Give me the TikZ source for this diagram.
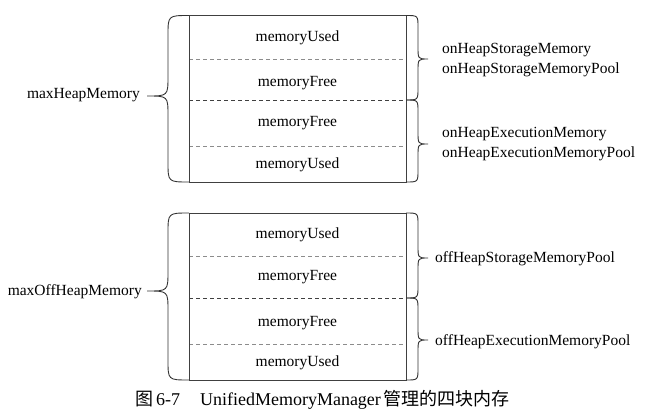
\documentclass[tikz,border=0pt]{standalone}
\usepackage{fontspec}
\setmainfont{Liberation Serif}
\newfontfamily\cjk{Noto Sans CJK SC}
\begin{document}
\begin{tikzpicture}[x=1pt,y=-1pt,
  frame/.style={draw=black!75,line width=0.9pt},
  divlight/.style={draw=black!45,line width=0.6pt,dash pattern=on 4pt off 3pt},
  divdark/.style={draw=black!75,line width=0.8pt,dash pattern=on 4pt off 3pt},
  bracel/.style={draw=black!80,line width=0.9pt},
  cell/.style={font=\fontsize{15.5}{18}\selectfont,inner sep=0pt},
  lab/.style={font=\fontsize{15.5}{20}\selectfont,inner sep=0pt,align=left},
  captext/.style={font=\fontsize{18}{20}\selectfont,inner sep=0pt}]
\useasboundingbox (0,0) rectangle (650,415);
\fill[white] (0,0) rectangle (650,415);
% brace macro: x0 (box edge), x1 (shaft), xt (tip), top, mid, bottom, r
\newcommand\curlyb[7]{%
  \draw[bracel] (#1,#4) .. controls (#2,#4) .. (#2,#4+#7) -- (#2,#5-#7)
    .. controls (#2,#5) .. (#3,#5) .. controls (#2,#5) .. (#2,#5+#7)
    -- (#2,#6-#7) .. controls (#2,#6) .. (#1,#6);}
% ---------- top box ----------
\draw[divlight] (189,59) -- (406,59);
\draw[divdark] (189,100) -- (406,100);
\draw[divlight] (189,146) -- (406,146);
\draw[frame] (189,15.5) rectangle (406,182);
\node[cell] (u1) at (297.5,38) {memoryUsed};
\node[cell] (f1) at (297.5,83) {memoryFree};
\node[cell] (f2) at (297.5,123) {memoryFree};
\node[cell] (u2) at (297.5,165) {memoryUsed};
\curlyb{189}{168}{147}{15.5}{96}{182}{20}
\curlyb{406}{418}{428}{15.5}{59}{100}{12}
\curlyb{406}{418}{428}{100}{144}{182}{12}
\node[lab,anchor=east] (mh) at (140,95) {maxHeapMemory};
\node[lab,anchor=west] (hs) at (442,60) {onHeapStorageMemory\\onHeapStorageMemoryPool};
\node[lab,anchor=west] (he) at (442,144.5) {onHeapExecutionMemory\\onHeapExecutionMemoryPool};
% ---------- bottom box ----------
\draw[divlight] (189,256) -- (406,256);
\draw[divdark] (189,298) -- (406,298);
\draw[divlight] (189,344) -- (406,344);
\draw[frame] (189,213) rectangle (406,380);
\node[cell] (u3) at (297.5,235) {memoryUsed};
\node[cell] (f3) at (297.5,277) {memoryFree};
\node[cell] (f4) at (297.5,323) {memoryFree};
\node[cell] (u4) at (297.5,363) {memoryUsed};
\curlyb{189}{168}{147}{213}{291}{380}{20}
\curlyb{406}{418}{428}{213}{258}{298}{12}
\curlyb{406}{418}{428}{298}{340}{380}{12}
\node[lab,anchor=east] (mo) at (142,292) {maxOffHeapMemory};
\node[lab,anchor=west] (os) at (435,259) {offHeapStorageMemoryPool};
\node[lab,anchor=west] (oe) at (435,342) {offHeapExecutionMemoryPool};
% ---------- caption ----------
\node[captext] (c) at (322.5,400) {{\cjk 图}\,6-7\hspace{20pt}UnifiedMemoryManager\,{\cjk 管理的四块内存}};
\end{tikzpicture}
\end{document}
